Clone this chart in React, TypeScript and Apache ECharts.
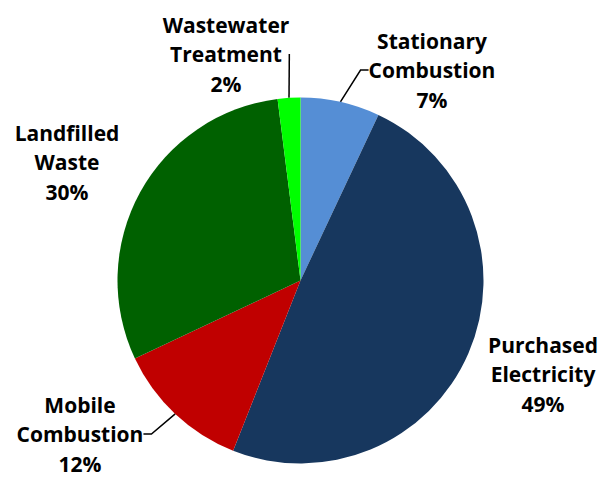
import React, { useEffect, useRef } from "react";
import * as echarts from "echarts";

const categories = [
  "Stationary\nCombustion",
  "Purchased\nElectricity",
  "Mobile\nCombustion",
  "Landfilled\nWaste",
  "Wastewater\nTreatment",
];
const values = [7, 49, 12, 30, 2];
const colors = ["#558ED5", "#17375E", "#C00000", "#006100", "#00FF00"];
const showLine = [true, false, true, false, true];
// label block centres (layout only)
const labelPos: [number, number][] = [
  [432, 70],
  [543, 374],
  [80, 434],
  [67, 162],
  [226, 54],
];

export default function App() {
  const ref = useRef<HTMLDivElement>(null);
  useEffect(() => {
    if (!ref.current) return;
    const chart = echarts.init(ref.current, undefined, { renderer: "svg" });
    chart.setOption({
      animation: false,
      backgroundColor: "#ffffff",
      series: [
        {
          type: "pie",
          center: [300.5, 280.5],
          radius: 183,
          startAngle: 90,
          clockwise: true,
          percentPrecision: 0,
          data: categories.map((name, i) => ({
            name,
            value: values[i],
            itemStyle: { color: colors[i] },
            labelLine: { show: showLine[i] },
          })),
          label: {
            show: true,
            position: "outside",
            formatter: "{b}\n{d}%",
            fontFamily: "Open Sans",
            fontWeight: "bold",
            fontSize: 21,
            lineHeight: 29.5,
            color: "#000000",
            overflow: "none",
          },
          labelLine: {
            show: true,
            length: 10,
            length2: 8,
            lineStyle: { color: "#000000", width: 1.5 },
          },
          labelLayout: (params: any) => {
            const p = labelPos[params.dataIndex];
            return { x: p[0], y: p[1], align: "center", verticalAlign: "middle" };
          },
        },
      ],
    });
    return () => chart.dispose();
  }, []);
  return (
    <div
      ref={ref}
      style={{ width: 600, height: 477, position: "absolute", left: 0, top: 0 }}
    />
  );
}
